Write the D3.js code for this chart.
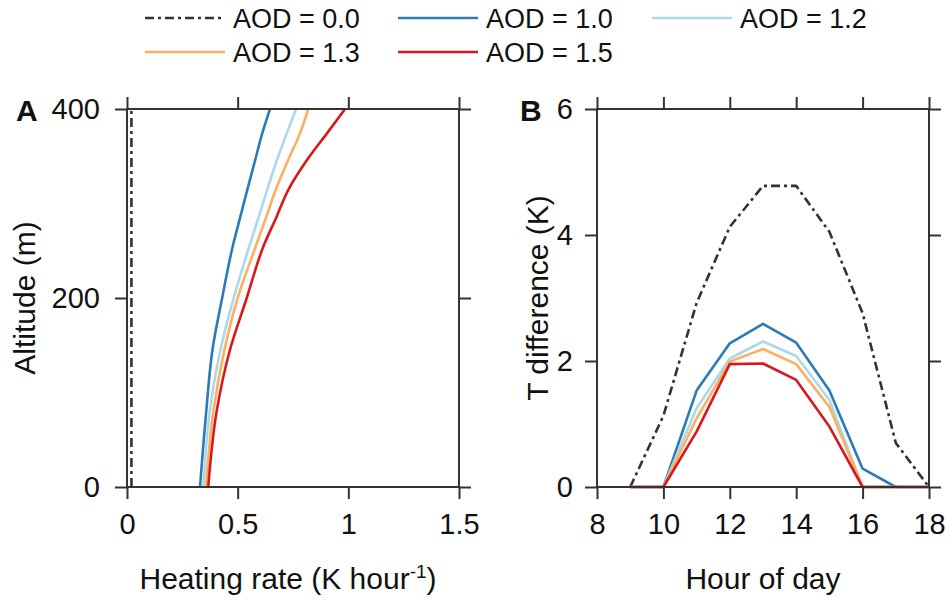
<!DOCTYPE html>
<html>
<head>
<meta charset="utf-8">
<script src="https://cdn.jsdelivr.net/npm/d3@7"></script>
<style>
  body { margin: 0; background: #fff; }
  svg text { font-family: "Liberation Sans", Arial, sans-serif; fill: #111; }
</style>
</head>
<body>
<svg id="chart" width="951" height="600"></svg>
<script>
// legend / series
const aodLabels = ['AOD = 0.0', 'AOD = 1.0', 'AOD = 1.2', 'AOD = 1.3', 'AOD = 1.5'];
const aodColors = ['#333333', '#2c7bb6', '#abd9e9', '#fdae61', '#d7191c'];

// panel A: heating rate profiles
const altitudes = [0, 80, 145, 200, 255, 285, 315, 345, 375, 400];
const heat00 = [0.02, 0.02, 0.02, 0.02, 0.02, 0.02, 0.02, 0.02, 0.02, 0.02];
const heat10 = [0.33, 0.358, 0.386, 0.43, 0.478, 0.511, 0.544, 0.578, 0.612, 0.646];
const heat12 = [0.345, 0.374, 0.422, 0.482, 0.553, 0.594, 0.634, 0.676, 0.723, 0.764];
const heat13 = [0.357, 0.39, 0.44, 0.5, 0.582, 0.628, 0.673, 0.726, 0.783, 0.819];
const heat15 = [0.367, 0.405, 0.465, 0.541, 0.617, 0.674, 0.73, 0.81, 0.906, 0.985];

// panel B: temperature difference through the day
const hours = [9, 10, 11, 12, 13, 14, 15, 16, 17, 18];
const tdiff00 = [0, 1.13, 2.92, 4.13, 4.78, 4.78, 4.05, 2.76, 0.7, 0];
const tdiff10 = [0, 0, 1.53, 2.28, 2.59, 2.29, 1.53, 0.29, 0, 0];
const tdiff12 = [0, 0, 1.25, 2.04, 2.31, 2.08, 1.38, 0, 0, 0];
const tdiff13 = [0, 0, 1.09, 1.99, 2.19, 1.95, 1.27, 0, 0, 0];
const tdiff15 = [0, 0, 0.88, 1.95, 1.96, 1.70, 0.96, 0, 0, 0];

const heatTicks = [0, 0.5, 1, 1.5];
const altTicks = [0, 200, 400];
const hourTicks = [8, 10, 12, 14, 16, 18];
const tdiffTicks = [0, 2, 4, 6];

const svg = d3.select('#chart');
const axisColor = '#333';
const plotTop = 109, plotBottom = 487;
const tickLen = 12;

function frame(g, x, y, xTicks, yTicks, xFmt, yPad) {
  const [x0, x1] = x.range();
  // four sided box, ticks outward on every side
  const bot = g.append('g').attr('transform', `translate(0,${plotBottom})`)
    .call(d3.axisBottom(x).tickValues(xTicks).tickSize(tickLen).tickPadding(14).tickFormat(xFmt));
  const tp = g.append('g').attr('transform', `translate(0,${plotTop})`)
    .call(d3.axisTop(x).tickValues(xTicks).tickSize(tickLen).tickFormat(''));
  const lf = g.append('g').attr('transform', `translate(${x0},0)`)
    .call(d3.axisLeft(y).tickValues(yTicks).tickSize(tickLen).tickPadding(yPad).tickFormat(d3.format('d')));
  const rt = g.append('g').attr('transform', `translate(${x1},0)`)
    .call(d3.axisRight(y).tickValues(yTicks).tickSize(tickLen).tickFormat(''));
  [bot, tp, lf, rt].forEach(a => {
    a.select('.domain').remove();
    a.selectAll('line').attr('stroke', axisColor).attr('stroke-width', 2);
    a.selectAll('text').style('font-size', '29px').attr('fill', '#111');
  });
  g.append('rect')
    .attr('x', x0).attr('y', plotTop)
    .attr('width', x1 - x0).attr('height', plotBottom - plotTop)
    .attr('fill', 'none').attr('stroke', axisColor).attr('stroke-width', 2);
}

function drawLines(g, series, xs, ys, horizontal) {
  series.forEach((vals, i) => {
    const line = horizontal
      ? d3.line().x((d, j) => xs(d)).y((d, j) => ys(altitudes[j])).curve(d3.curveMonotoneY)
      : d3.line().x((d, j) => xs(hours[j])).y((d, j) => ys(d));
    g.append('path')
      .datum(vals)
      .attr('d', line)
      .attr('fill', 'none')
      .attr('stroke', aodColors[i])
      .attr('stroke-width', 2.6)
      .attr('stroke-linejoin', 'round')
      .attr('stroke-dasharray', i === 0 ? '9,4,3,4' : null);
  });
}

// ---- panel A
const xA = d3.scaleLinear().domain([0, 1.5]).range([127, 459]);
const yA = d3.scaleLinear().domain([0, 400]).range([plotBottom, plotTop]);
const gA = svg.append('g');
drawLines(gA, [heat00, heat10, heat12, heat13, heat15], xA, yA, true);
frame(gA, xA, yA, heatTicks, altTicks, d3.format('~g'), 15);

gA.append('text').attr('x', 16).attr('y', 121)
  .style('font-size', '30px').style('font-weight', 'bold').text('A');
gA.append('text')
  .attr('transform', `translate(35,${(plotTop + plotBottom) / 2}) rotate(-90)`)
  .attr('text-anchor', 'middle').style('font-size', '30px').text('Altitude (m)');
const xlab = gA.append('text').attr('x', (127 + 459) / 2 - 5).attr('y', 589)
  .attr('text-anchor', 'middle').style('font-size', '30px');
xlab.append('tspan').text('Heating rate (K hour');
xlab.append('tspan').attr('dy', -11).style('font-size', '19px').text('-1');
xlab.append('tspan').attr('dy', 11).text(')');

// ---- panel B
const xB = d3.scaleLinear().domain([8, 18]).range([597, 929]);
const yB = d3.scaleLinear().domain([0, 6]).range([plotBottom, plotTop]);
const gB = svg.append('g');
drawLines(gB, [tdiff00, tdiff10, tdiff12, tdiff13, tdiff15], xB, yB, false);
frame(gB, xB, yB, hourTicks, tdiffTicks, d3.format('d'), 12);

gB.append('text').attr('x', 520).attr('y', 121)
  .style('font-size', '30px').style('font-weight', 'bold').text('B');
gB.append('text')
  .attr('transform', `translate(548,${(plotTop + plotBottom) / 2}) rotate(-90)`)
  .attr('text-anchor', 'middle').style('font-size', '30px').text('T difference (K)');
gB.append('text').attr('x', (597 + 929) / 2).attr('y', 589)
  .attr('text-anchor', 'middle').style('font-size', '30px').text('Hour of day');

// ---- legend
const legendPos = [[145, 18], [398, 18], [652, 18], [145, 52], [398, 52]];
const leg = svg.append('g');
aodLabels.forEach((lab, i) => {
  const [lx, ly] = legendPos[i];
  leg.append('line')
    .attr('x1', lx).attr('x2', lx + 80).attr('y1', ly).attr('y2', ly)
    .attr('stroke', aodColors[i]).attr('stroke-width', 2.6)
    .attr('stroke-dasharray', i === 0 ? '9,4,3,4' : null);
  leg.append('text').attr('x', lx + 88).attr('y', ly + 10)
    .style('font-size', '27px').text(lab);
});
</script>
</body>
</html>
